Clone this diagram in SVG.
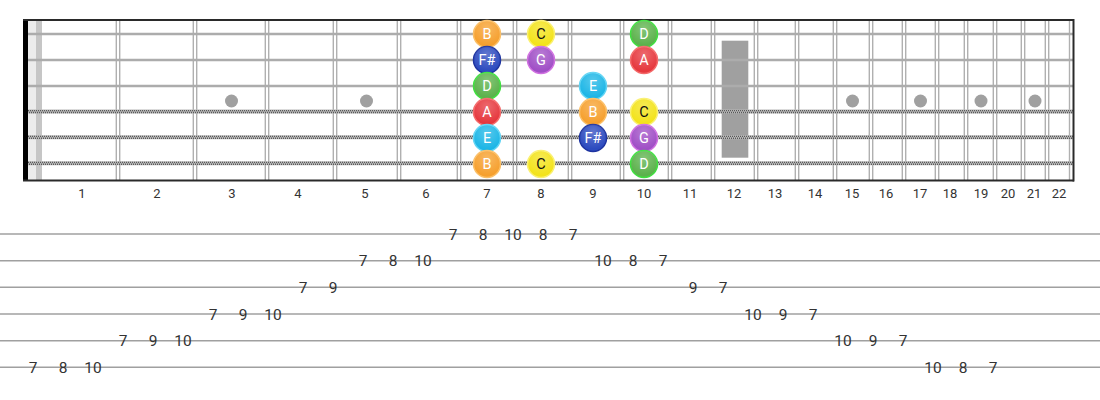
<svg xmlns="http://www.w3.org/2000/svg" width="1100" height="400" viewBox="0 0 1100 400">
<defs>
<style>
.fret{stroke:#b0b0b0;stroke-width:1.4}
.str{stroke:#acacac;stroke-width:2.4}
.wbase{stroke:#b8b8b8;stroke-width:4}
.wdots{stroke:#5a5a5a;stroke-width:1.4;stroke-dasharray:1 1}
.dot{fill:#a0a0a0}
.fn{font-family:Roboto,"Liberation Sans",sans-serif;font-size:13px;fill:#333;text-anchor:middle}
.tabl{stroke:#a0a0a0;stroke-width:1.6}
.tn{font-family:Roboto,"Liberation Sans",sans-serif;font-size:15.5px;fill:#333;text-anchor:middle}
.nt{font-family:Roboto,"Liberation Sans",sans-serif;font-size:14.5px;fill:#fff;text-anchor:middle}
.ntd{font-family:Roboto,"Liberation Sans",sans-serif;font-size:14.5px;fill:#111;text-anchor:middle}
.B{fill:#f6a02e;stroke:#fbbf66;stroke-width:1.5}
.C{fill:#f3e31b;stroke:#faf070;stroke-width:1.5}
.D{fill:#5cb24c;stroke:#3fe03f;stroke-width:1.5}
.A{fill:#e6383e;stroke:#f46a6a;stroke-width:1.5}
.Fs{fill:#2d4bbf;stroke:#1e34a0;stroke-width:1.5}
.G{fill:#a04fc6;stroke:#d070e0;stroke-width:1.5}
.E{fill:#1db6e6;stroke:#60d4f4;stroke-width:1.5}
</style>
<radialGradient id="hl" cx="0.5" cy="0.3" r="0.6">
<stop offset="0" stop-color="#fff" stop-opacity="0.25"/>
<stop offset="1" stop-color="#fff" stop-opacity="0"/>
</radialGradient>
</defs>
<rect width="1100" height="400" fill="#fff"/>
<g id="fretboard">
<rect x="28" y="20" width="8" height="160" fill="#ececec"/>
<rect x="36" y="20" width="6" height="160" fill="#c6c6c6"/>
<g id="frets">
<line class="fret" x1="116.3" y1="20" x2="116.3" y2="180"/><line class="fret" x1="119.7" y1="20" x2="119.7" y2="180"/>
<line class="fret" x1="193.3" y1="20" x2="193.3" y2="180"/><line class="fret" x1="196.7" y1="20" x2="196.7" y2="180"/>
<line class="fret" x1="265.3" y1="20" x2="265.3" y2="180"/><line class="fret" x1="268.7" y1="20" x2="268.7" y2="180"/>
<line class="fret" x1="333.3" y1="20" x2="333.3" y2="180"/><line class="fret" x1="336.7" y1="20" x2="336.7" y2="180"/>
<line class="fret" x1="397.3" y1="20" x2="397.3" y2="180"/><line class="fret" x1="400.7" y1="20" x2="400.7" y2="180"/>
<line class="fret" x1="457.3" y1="20" x2="457.3" y2="180"/><line class="fret" x1="460.7" y1="20" x2="460.7" y2="180"/>
<line class="fret" x1="513.3" y1="20" x2="513.3" y2="180"/><line class="fret" x1="516.7" y1="20" x2="516.7" y2="180"/>
<line class="fret" x1="568.3" y1="20" x2="568.3" y2="180"/><line class="fret" x1="571.7" y1="20" x2="571.7" y2="180"/>
<line class="fret" x1="620.3" y1="20" x2="620.3" y2="180"/><line class="fret" x1="623.7" y1="20" x2="623.7" y2="180"/>
<line class="fret" x1="668.3" y1="20" x2="668.3" y2="180"/><line class="fret" x1="671.7" y1="20" x2="671.7" y2="180"/>
<line class="fret" x1="711.3" y1="20" x2="711.3" y2="180"/><line class="fret" x1="714.7" y1="20" x2="714.7" y2="180"/>
<line class="fret" x1="754.3" y1="20" x2="754.3" y2="180"/><line class="fret" x1="757.7" y1="20" x2="757.7" y2="180"/>
<line class="fret" x1="795.3" y1="20" x2="795.3" y2="180"/><line class="fret" x1="798.7" y1="20" x2="798.7" y2="180"/>
<line class="fret" x1="833.3" y1="20" x2="833.3" y2="180"/><line class="fret" x1="836.7" y1="20" x2="836.7" y2="180"/>
<line class="fret" x1="869.3" y1="20" x2="869.3" y2="180"/><line class="fret" x1="872.7" y1="20" x2="872.7" y2="180"/>
<line class="fret" x1="902.3" y1="20" x2="902.3" y2="180"/><line class="fret" x1="905.7" y1="20" x2="905.7" y2="180"/>
<line class="fret" x1="935.3" y1="20" x2="935.3" y2="180"/><line class="fret" x1="938.7" y1="20" x2="938.7" y2="180"/>
<line class="fret" x1="964.3" y1="20" x2="964.3" y2="180"/><line class="fret" x1="967.7" y1="20" x2="967.7" y2="180"/>
<line class="fret" x1="993.3" y1="20" x2="993.3" y2="180"/><line class="fret" x1="996.7" y1="20" x2="996.7" y2="180"/>
<line class="fret" x1="1021.3" y1="20" x2="1021.3" y2="180"/><line class="fret" x1="1024.7" y1="20" x2="1024.7" y2="180"/>
<line class="fret" x1="1045.3" y1="20" x2="1045.3" y2="180"/><line class="fret" x1="1048.7" y1="20" x2="1048.7" y2="180"/>
<line class="fret" x1="1069.5" y1="20" x2="1069.5" y2="180"/>
</g>
<g id="inlays">
<circle class="dot" cx="231.5" cy="101" r="6.5"/>
<circle class="dot" cx="366.5" cy="101" r="6.5"/>
<circle class="dot" cx="852.5" cy="101" r="6.5"/>
<circle class="dot" cx="920.5" cy="101" r="6.5"/>
<circle class="dot" cx="981" cy="101" r="6.5"/>
<circle class="dot" cx="1035" cy="101" r="6.5"/>
<rect class="dot" x="721.7" y="40.7" width="26.6" height="117"/>
</g>
<g id="strings">
<line class="str" x1="28" y1="34" x2="1073" y2="34"/>
<line class="str" x1="28" y1="60" x2="1073" y2="60"/>
<line class="str" x1="28" y1="86" x2="1073" y2="86"/>
<line class="wbase" x1="28" y1="111.5" x2="1073" y2="111.5"/>
<line class="wdots" x1="28" y1="110.6" x2="1073" y2="110.6"/>
<line class="wdots" x1="29" y1="112.5" x2="1073" y2="112.5"/>
<line class="wbase" x1="28" y1="137.3" x2="1073" y2="137.3"/>
<line class="wdots" x1="28" y1="136.4" x2="1073" y2="136.4"/>
<line class="wdots" x1="29" y1="138.3" x2="1073" y2="138.3"/>
<line class="wbase" x1="28" y1="163.3" x2="1073" y2="163.3"/>
<line class="wdots" x1="28" y1="162.4" x2="1073" y2="162.4"/>
<line class="wdots" x1="29" y1="164.3" x2="1073" y2="164.3"/>
</g>
<rect x="23" y="20" width="5" height="161" fill="#000"/>
<line x1="23" y1="20" x2="1074" y2="20" stroke="#2a2a2a" stroke-width="2"/>
<line x1="23" y1="180.5" x2="1074" y2="180.5" stroke="#2a2a2a" stroke-width="2"/>
<line x1="1073.5" y1="19" x2="1073.5" y2="181.5" stroke="#2a2a2a" stroke-width="2"/>
</g>
<g id="fret-numbers">
<text class="fn" x="82" y="198">1</text>
<text class="fn" x="157" y="198">2</text>
<text class="fn" x="232" y="198">3</text>
<text class="fn" x="298" y="198">4</text>
<text class="fn" x="365" y="198">5</text>
<text class="fn" x="426" y="198">6</text>
<text class="fn" x="487" y="198">7</text>
<text class="fn" x="541" y="198">8</text>
<text class="fn" x="593" y="198">9</text>
<text class="fn" x="644" y="198">10</text>
<text class="fn" x="690" y="198">11</text>
<text class="fn" x="734" y="198">12</text>
<text class="fn" x="775" y="198">13</text>
<text class="fn" x="815" y="198">14</text>
<text class="fn" x="852" y="198">15</text>
<text class="fn" x="886" y="198">16</text>
<text class="fn" x="920" y="198">17</text>
<text class="fn" x="950" y="198">18</text>
<text class="fn" x="981" y="198">19</text>
<text class="fn" x="1008" y="198">20</text>
<text class="fn" x="1034" y="198">21</text>
<text class="fn" x="1059" y="198">22</text>
</g>
<g id="notes">
<g id="n-s1-f7"><circle class="B" cx="487" cy="34" r="13.5"/><circle cx="487" cy="34" r="13.5" fill="url(#hl)"/><text class="nt" x="487" y="39">B</text></g>
<g id="n-s1-f8"><circle class="C" cx="541" cy="34" r="13.5"/><circle cx="541" cy="34" r="13.5" fill="url(#hl)"/><text class="ntd" x="541" y="39">C</text></g>
<g id="n-s1-f10"><circle class="D" cx="644" cy="34" r="13.5"/><circle cx="644" cy="34" r="13.5" fill="url(#hl)"/><text class="nt" x="644" y="39">D</text></g>
<g id="n-s2-f7"><circle class="Fs" cx="487" cy="60" r="13.5"/><circle cx="487" cy="60" r="13.5" fill="url(#hl)"/><text class="nt" x="487" y="65">F#</text></g>
<g id="n-s2-f8"><circle class="G" cx="541" cy="60" r="13.5"/><circle cx="541" cy="60" r="13.5" fill="url(#hl)"/><text class="nt" x="541" y="65">G</text></g>
<g id="n-s2-f10"><circle class="A" cx="644" cy="60" r="13.5"/><circle cx="644" cy="60" r="13.5" fill="url(#hl)"/><text class="nt" x="644" y="65">A</text></g>
<g id="n-s3-f7"><circle class="D" cx="487" cy="86" r="13.5"/><circle cx="487" cy="86" r="13.5" fill="url(#hl)"/><text class="nt" x="487" y="91">D</text></g>
<g id="n-s3-f9"><circle class="E" cx="593" cy="86" r="13.5"/><circle cx="593" cy="86" r="13.5" fill="url(#hl)"/><text class="nt" x="593" y="91">E</text></g>
<g id="n-s4-f7"><circle class="A" cx="487" cy="112" r="13.5"/><circle cx="487" cy="112" r="13.5" fill="url(#hl)"/><text class="nt" x="487" y="117">A</text></g>
<g id="n-s4-f9"><circle class="B" cx="593" cy="112" r="13.5"/><circle cx="593" cy="112" r="13.5" fill="url(#hl)"/><text class="nt" x="593" y="117">B</text></g>
<g id="n-s4-f10"><circle class="C" cx="644" cy="112" r="13.5"/><circle cx="644" cy="112" r="13.5" fill="url(#hl)"/><text class="ntd" x="644" y="117">C</text></g>
<g id="n-s5-f7"><circle class="E" cx="487" cy="138" r="13.5"/><circle cx="487" cy="138" r="13.5" fill="url(#hl)"/><text class="nt" x="487" y="143">E</text></g>
<g id="n-s5-f9"><circle class="Fs" cx="593" cy="138" r="13.5"/><circle cx="593" cy="138" r="13.5" fill="url(#hl)"/><text class="nt" x="593" y="143">F#</text></g>
<g id="n-s5-f10"><circle class="G" cx="644" cy="138" r="13.5"/><circle cx="644" cy="138" r="13.5" fill="url(#hl)"/><text class="nt" x="644" y="143">G</text></g>
<g id="n-s6-f7"><circle class="B" cx="487" cy="164" r="13.5"/><circle cx="487" cy="164" r="13.5" fill="url(#hl)"/><text class="nt" x="487" y="169">B</text></g>
<g id="n-s6-f8"><circle class="C" cx="541" cy="164" r="13.5"/><circle cx="541" cy="164" r="13.5" fill="url(#hl)"/><text class="ntd" x="541" y="169">C</text></g>
<g id="n-s6-f10"><circle class="D" cx="644" cy="164" r="13.5"/><circle cx="644" cy="164" r="13.5" fill="url(#hl)"/><text class="nt" x="644" y="169">D</text></g>
</g>
<g id="tab-lines">
<line class="tabl" x1="0" y1="234" x2="1100" y2="234"/>
<line class="tabl" x1="0" y1="260.7" x2="1100" y2="260.7"/>
<line class="tabl" x1="0" y1="287.3" x2="1100" y2="287.3"/>
<line class="tabl" x1="0" y1="314" x2="1100" y2="314"/>
<line class="tabl" x1="0" y1="340.7" x2="1100" y2="340.7"/>
<line class="tabl" x1="0" y1="367.3" x2="1100" y2="367.3"/>
</g>
<g id="tab-numbers">
<text class="tn" x="33" y="372.8">7</text><text class="tn" x="63" y="372.8">8</text><text class="tn" x="93" y="372.8">10</text>
<text class="tn" x="123" y="346.2">7</text><text class="tn" x="153" y="346.2">9</text><text class="tn" x="183" y="346.2">10</text>
<text class="tn" x="213" y="319.5">7</text><text class="tn" x="243" y="319.5">9</text><text class="tn" x="273" y="319.5">10</text>
<text class="tn" x="303" y="292.8">7</text><text class="tn" x="333" y="292.8">9</text>
<text class="tn" x="363" y="266.2">7</text><text class="tn" x="393" y="266.2">8</text><text class="tn" x="423" y="266.2">10</text>
<text class="tn" x="453" y="239.5">7</text><text class="tn" x="483" y="239.5">8</text><text class="tn" x="513" y="239.5">10</text><text class="tn" x="543" y="239.5">8</text><text class="tn" x="573" y="239.5">7</text>
<text class="tn" x="603" y="266.2">10</text><text class="tn" x="633" y="266.2">8</text><text class="tn" x="663" y="266.2">7</text>
<text class="tn" x="693" y="292.8">9</text><text class="tn" x="723" y="292.8">7</text>
<text class="tn" x="753" y="319.5">10</text><text class="tn" x="783" y="319.5">9</text><text class="tn" x="813" y="319.5">7</text>
<text class="tn" x="843" y="346.2">10</text><text class="tn" x="873" y="346.2">9</text><text class="tn" x="903" y="346.2">7</text>
<text class="tn" x="933" y="372.8">10</text><text class="tn" x="963" y="372.8">8</text><text class="tn" x="993" y="372.8">7</text>
</g>
</svg>
